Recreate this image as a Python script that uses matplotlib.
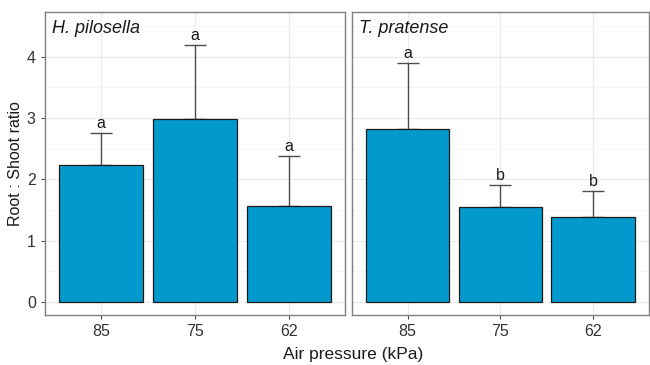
import matplotlib
matplotlib.use("Agg")
import matplotlib.pyplot as plt
from matplotlib.ticker import MultipleLocator

plt.rcParams['font.family'] = ['Liberation Sans', 'DejaVu Sans']

# data
pressures = ["85", "75", "62"]
species = ["H. pilosella", "T. pratense"]
means_hp = [2.23, 2.99, 1.57]
upper_hp = [2.76, 4.20, 2.38]
letters_hp = ["a", "a", "a"]
means_tp = [2.82, 1.55, 1.38]
upper_tp = [3.90, 1.91, 1.81]
letters_tp = ["a", "b", "b"]

panels = [
    (species[0], means_hp, upper_hp, letters_hp),
    (species[1], means_tp, upper_tp, letters_tp),
]

fill = "#0399cc"
grid_col = "#ebebeb"
frame_col = "#7f7f7f"

fig = plt.figure(figsize=(6.5, 3.65), dpi=100)
boxes = [[0.069, 0.137, 0.462, 0.830], [0.5415, 0.137, 0.4565, 0.830]]

for i, (name, means, upper, letters) in enumerate(panels):
    ax = fig.add_axes(boxes[i])
    x = list(range(len(pressures)))
    err = [u - m for u, m in zip(upper, means)]
    ax.errorbar(x, means, yerr=[[0] * len(x), err], fmt="none",
                ecolor="#4d4d4d", elinewidth=1.0, capsize=8, capthick=1.0, zorder=2)
    ax.bar(x, means, width=0.9, color=fill, edgecolor="#1a1a1a", linewidth=0.9, zorder=3)
    for xi, u, lab in zip(x, upper, letters):
        ax.text(xi, u + 0.03, lab, ha="center", va="bottom", fontsize=11.5, color="#1a1a1a")
    ax.text(0.025, 0.975, name, transform=ax.transAxes, ha="left", va="top",
            fontsize=13, style="italic", color="#1a1a1a")

    ax.set_xlim(-0.6, 2.6)
    ax.set_ylim(-0.21, 4.73)
    ax.set_xticks(x)
    ax.set_xticklabels(pressures)
    ax.yaxis.set_major_locator(MultipleLocator(1))
    ax.yaxis.set_minor_locator(MultipleLocator(0.5))
    ax.grid(True, which="major", color=grid_col, linewidth=0.9, zorder=0)
    ax.grid(True, which="minor", axis="y", color="#f4f4f4", linewidth=0.6, zorder=0)
    ax.set_axisbelow(True)
    for s in ax.spines.values():
        s.set_color(frame_col)
        s.set_linewidth(1.0)
    ax.tick_params(axis="both", which="major", color="#4d4d4d", length=3,
                   labelsize=11.5, labelcolor="#333333")
    ax.tick_params(axis="y", which="minor", length=0)
    if i == 0:
        ax.set_ylabel("Root : Shoot ratio", fontsize=11.5, color="#1a1a1a", labelpad=3)
    else:
        ax.tick_params(axis="y", which="both", left=False, labelleft=False)

fig.text(0.543, 0.008, "Air pressure (kPa)", ha="center", va="bottom", fontsize=12.5, color="#1a1a1a")

fig.savefig("out.png", dpi=100)
